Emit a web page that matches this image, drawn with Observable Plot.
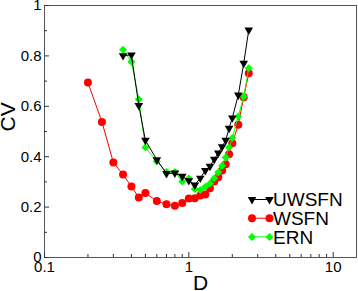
<!DOCTYPE html>
<html><head><meta charset="utf-8">
<script src="https://cdn.jsdelivr.net/npm/d3@7"></script>
<script src="https://cdn.jsdelivr.net/npm/@observablehq/plot@0.6"></script>
<style>
html,body{margin:0;padding:0;background:#fff;}
svg{display:block;}
</style>
</head><body><div id="chart"></div>
<script>
const seriesNames = ["UWSFN", "WSFN", "ERN"];
const seriesColors = ["#000000", "#ff0000", "#00ff00"];

const D_UWSFN = [0.35, 0.4, 0.45, 0.5, 0.6, 0.7, 0.8, 0.9, 1.0, 1.1, 1.2, 1.3, 1.4, 1.5, 1.6, 1.7, 1.8, 1.9, 2.0, 2.2, 2.4, 2.6];
const CV_UWSFN = [0.801, 0.804, 0.603, 0.465, 0.388, 0.333, 0.335, 0.322, 0.305, 0.288, 0.315, 0.345, 0.362, 0.39, 0.415, 0.44, 0.465, 0.513, 0.554, 0.645, 0.771, 0.903];

const D_WSFN = [0.2, 0.25, 0.3, 0.35, 0.4, 0.45, 0.5, 0.6, 0.7, 0.8, 0.9, 1.0, 1.1, 1.2, 1.3, 1.4, 1.5, 1.6, 1.7, 1.8, 1.9, 2.0, 2.2, 2.4, 2.6];
const CV_WSFN = [0.694, 0.538, 0.377, 0.329, 0.282, 0.238, 0.256, 0.224, 0.211, 0.205, 0.216, 0.234, 0.235, 0.246, 0.25, 0.275, 0.302, 0.318, 0.345, 0.37, 0.41, 0.453, 0.527, 0.636, 0.731];

const D_ERN = [0.35, 0.4, 0.45, 0.5, 0.6, 0.7, 0.8, 0.9, 1.0, 1.1, 1.2, 1.3, 1.4, 1.5, 1.6, 1.7, 1.8, 1.9, 2.0, 2.2, 2.4, 2.6];
const CV_ERN = [0.824, 0.777, 0.628, 0.437, 0.381, 0.339, 0.339, 0.302, 0.314, 0.272, 0.268, 0.281, 0.294, 0.314, 0.338, 0.364, 0.397, 0.437, 0.474, 0.56, 0.638, 0.751];

const xMajorTicks = [0.1, 1, 10];
const xMinorTicks = [0.2, 0.3, 0.4, 0.5, 0.6, 0.7, 0.8, 0.9, 2, 3, 4, 5, 6, 7, 8, 9];
const yMajorTicks = [0, 0.2, 0.4, 0.6, 0.8, 1];
const yMinorTicks = [0.1, 0.3, 0.5, 0.7, 0.9];
const xLabel = "D";
const yLabel = "CV";

const toRows = (ds, cvs) => ds.map((d, i) => ({D: d, CV: cvs[i]}));
const uw = toRows(D_UWSFN, CV_UWSFN);
const ws = toRows(D_WSFN, CV_WSFN);
const er = toRows(D_ERN, CV_ERN);

const font = "'Liberation Sans', Arial, Helvetica, sans-serif";

const chart = Plot.plot({
  width: 358,
  height: 291,
  marginLeft: 44,
  marginRight: 2,
  marginTop: 5,
  marginBottom: 34,
  style: {fontFamily: font, background: "#fff", color: "#000"},
  x: {type: "log", domain: [0.1, 14.5]},
  y: {domain: [0, 1]},
  marks: [
    Plot.frame({stroke: "#555", strokeWidth: 1}),
    Plot.axisX(xMajorTicks, {tickSize: 5, dy: -5, tickFormat: () => "", label: null, stroke: "#333"}),
    Plot.axisX(xMinorTicks, {tickSize: 3, dy: -3, tickFormat: () => "", label: null, stroke: "#333"}),
    Plot.axisX(xMajorTicks, {tickSize: 0, tickPadding: 4, tickFormat: d => String(d), fontSize: 15, label: null}),
    Plot.axisY(yMajorTicks, {tickSize: 5, dx: 5, tickFormat: () => "", label: null, stroke: "#333"}),
    Plot.axisY(yMinorTicks, {tickSize: 3, dx: 3, tickFormat: () => "", label: null, stroke: "#333"}),
    Plot.axisY(yMajorTicks, {tickSize: 0, tickPadding: 3, tickFormat: d => String(d), fontSize: 15, label: null}),
    Plot.text([xLabel], {frameAnchor: "bottom", dy: 26, fontSize: 21, lineAnchor: "middle"}),
    Plot.text([yLabel], {frameAnchor: "left", dx: -36, rotate: -90, fontSize: 21, lineAnchor: "middle"}),
    Plot.line(ws, {x: "D", y: "CV", stroke: seriesColors[1], strokeWidth: 1}),
    Plot.dot(ws, {x: "D", y: "CV", fill: seriesColors[1], r: 4, symbol: "circle"}),
    Plot.line(er, {x: "D", y: "CV", stroke: seriesColors[2], strokeWidth: 1}),
    Plot.dot(er, {x: "D", y: "CV", fill: seriesColors[2], r: 3.6, symbol: "diamond2"}),
    Plot.line(uw, {x: "D", y: "CV", stroke: seriesColors[0], strokeWidth: 1}),
    Plot.dot(uw, {x: "D", y: "CV", fill: seriesColors[0], r: 3.2, symbol: "triangle", rotate: 180})
  ]
});

// Legend inside plot area (lower right)
const svg = d3.select(chart);
const legend = svg.append("g")
  .attr("font-family", font)
  .attr("font-size", 19)
  .attr("text-anchor", "start")
  .style("text-anchor", "start");
const legendSymbols = [d3.symbolTriangle, d3.symbolCircle, d3.symbolDiamond2];
const legendSizes = [Math.PI * 3.2 * 3.2, Math.PI * 16, Math.PI * 3.6 * 3.6];
const legendRot = [180, 0, 0];
seriesNames.forEach((name, i) => {
  const y = 199.5 + i * 18.7;
  const g = legend.append("g").attr("transform", `translate(0,${y})`);
  g.append("line").attr("x1", 252).attr("x2", 269.5).attr("y1", 0).attr("y2", 0)
    .attr("stroke", seriesColors[i]).attr("stroke-width", 1);
  [252, 269.5].forEach(x => {
    g.append("path").attr("d", d3.symbol(legendSymbols[i], legendSizes[i])())
      .attr("transform", `translate(${x},0) rotate(${legendRot[i]})`)
      .attr("fill", seriesColors[i]);
  });
  g.append("text").attr("x", 273).attr("y", 0).attr("dy", "0.36em")
    .style("text-anchor", "start").text(name);
});

document.getElementById("chart").appendChild(chart);
</script>
</body></html>
